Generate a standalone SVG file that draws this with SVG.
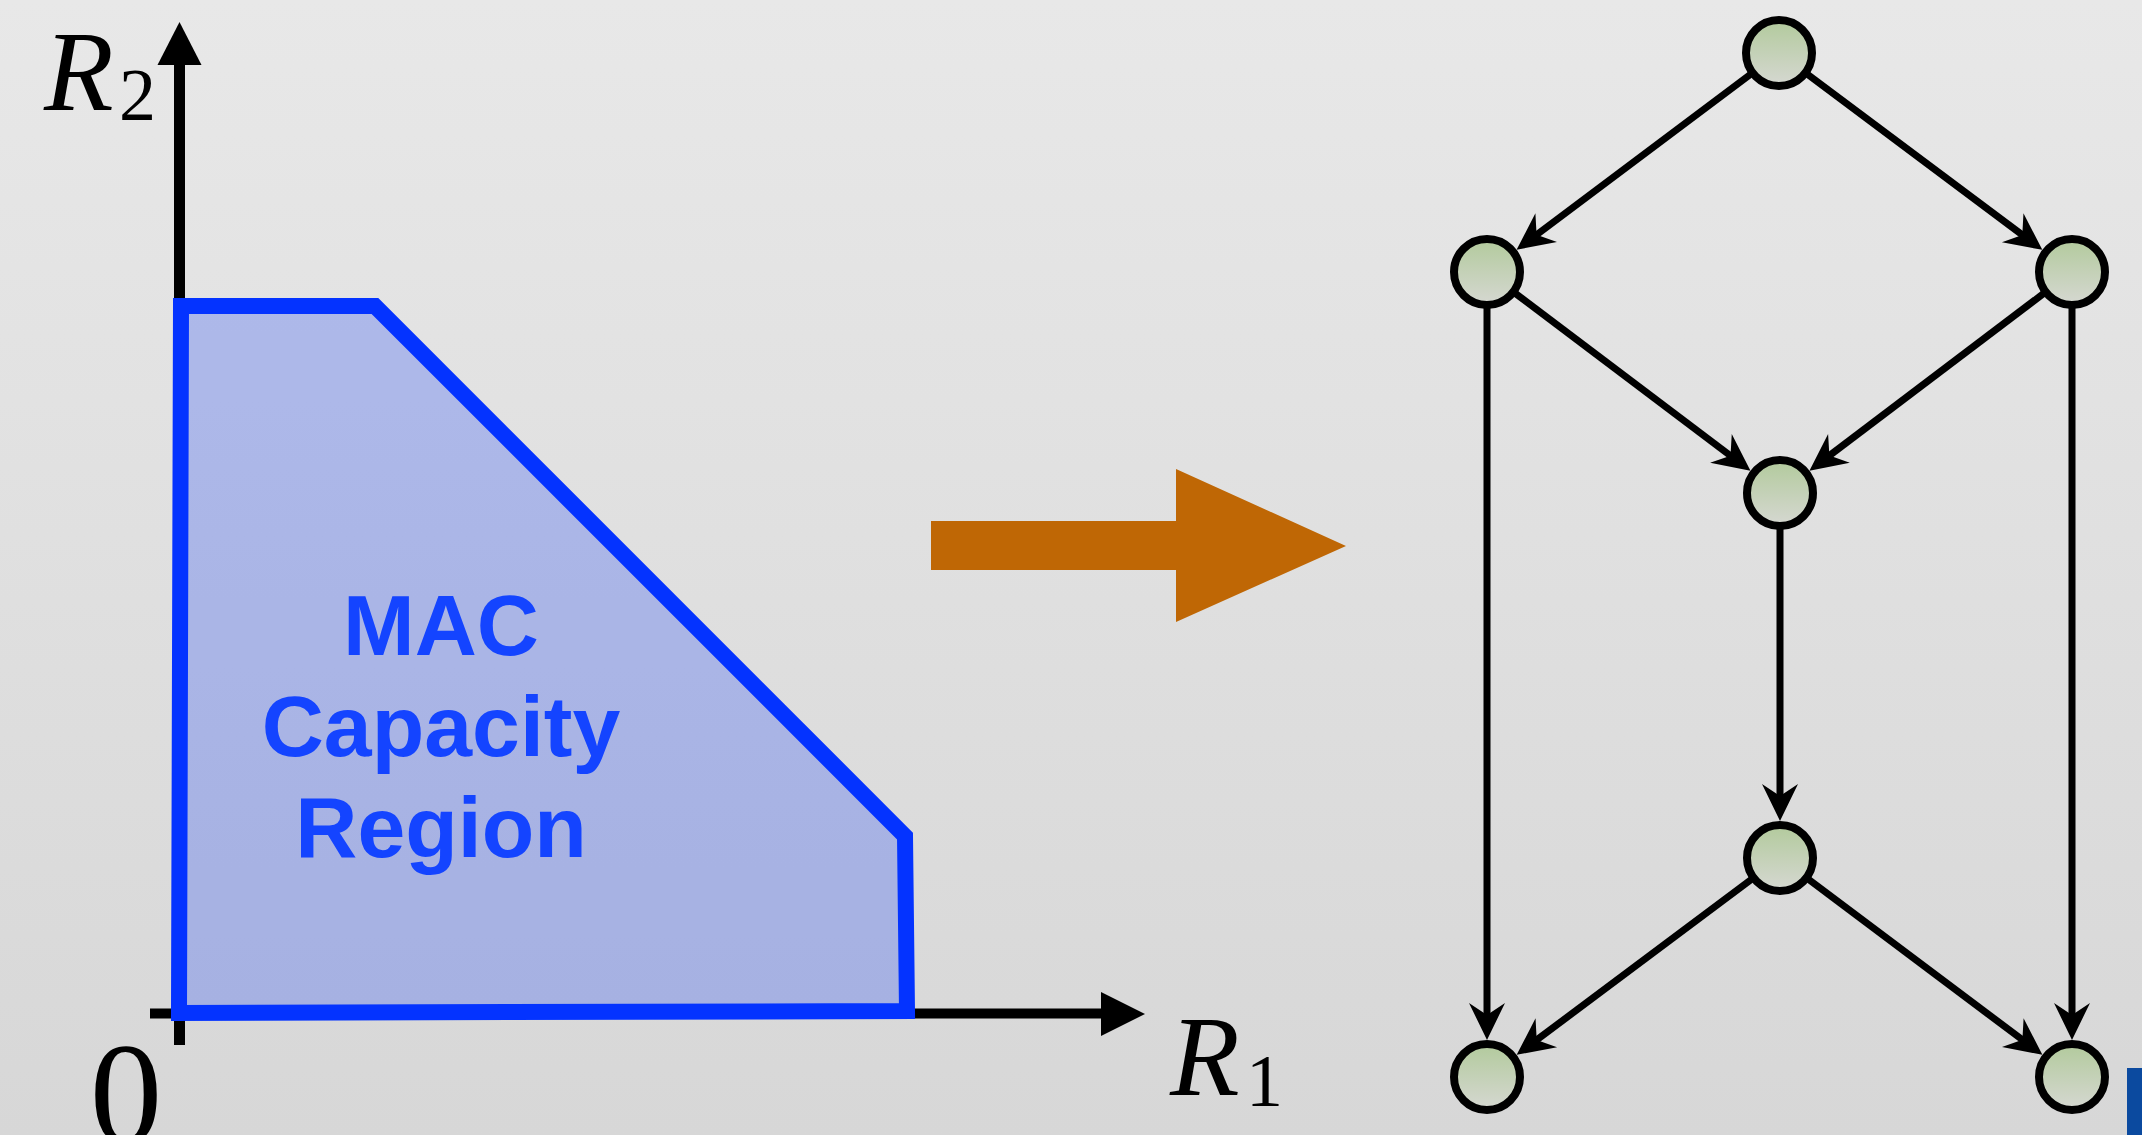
<svg xmlns="http://www.w3.org/2000/svg" width="2142" height="1135" viewBox="0 0 2142 1135">
  <defs>
    <linearGradient id="bg" x1="0" y1="0" x2="0" y2="1">
      <stop offset="0" stop-color="#e8e8e8"/>
      <stop offset="1" stop-color="#d7d7d7"/>
    </linearGradient>
    <linearGradient id="nodefill" x1="0" y1="0" x2="0" y2="1">
      <stop offset="0" stop-color="#b2ca9c"/>
      <stop offset="1" stop-color="#d6d8d2"/>
    </linearGradient>
    <marker id="arr" markerUnits="userSpaceOnUse" orient="auto" refX="0" refY="0" markerWidth="60" markerHeight="40" overflow="visible">
      <path d="M20,0 L-17,-18 L-5,0 L-17,18 Z" fill="#000"/>
    </marker>
    <style>
      .node circle { fill: url(#nodefill); stroke: #000; stroke-width: 8; }
      .edge { stroke: #000; stroke-width: 7; fill: none; marker-end: url(#arr); }
      .math { font-family: "Liberation Serif", "DejaVu Serif", serif; fill: #000; }
      .region-label { font-family: "Liberation Sans", Arial, sans-serif; font-weight: bold; font-size: 86px; fill: #1444ff; text-anchor: middle; }
    </style>
  </defs>

  <rect x="0" y="0" width="2142" height="1135" fill="url(#bg)"/>

  <!-- Left plot: axes -->
  <g id="axes">
    <line x1="179.5" y1="1045" x2="179.5" y2="60" stroke="#000" stroke-width="11"/>
    <polygon points="179.5,22 157.5,65 201.5,65" fill="#000"/>
    <line x1="150" y1="1013.5" x2="1106" y2="1013.5" stroke="#000" stroke-width="10"/>
    <polygon points="1145,1014 1101,992 1101,1036" fill="#000"/>
  </g>

  <!-- Capacity region -->
  <g id="region">
    <polygon points="181,306 375,306 905,836 907,1011 179,1013" fill="rgba(4,51,255,0.24)" stroke="#0433ff" stroke-width="16" stroke-linejoin="miter"/>
    <text class="region-label" x="441" y="655">MAC</text>
    <text class="region-label" x="441" y="756">Capacity</text>
    <text class="region-label" x="441" y="857">Region</text>
  </g>

  <!-- Axis labels -->
  <g id="labels">
    <text class="math" x="44" y="110" font-size="114" font-style="italic">R</text>
    <text class="math" x="119" y="120" font-size="74">2</text>
    <text class="math" x="1170" y="1095" font-size="114" font-style="italic">R</text>
    <text class="math" x="1246" y="1106" font-size="74">1</text>
    <text class="math" x="126" y="1143" font-size="145" text-anchor="middle">0</text>
  </g>

  <!-- Big orange arrow -->
  <g id="transform-arrow">
    <polygon points="931,521 1176,521 1176,469 1346,546 1176,622 1176,570 931,570" fill="#bf6705"/>
  </g>

  <!-- Graph connectors -->
  <g id="connectors">
    <line class="edge" x1="1752.6" y1="72.8" x2="1532.6" y2="237.8"/>
    <line class="edge" x1="1805.4" y1="72.8" x2="2026.3" y2="237.9"/>
    <line class="edge" x1="1513.3" y1="291.9" x2="1734.5" y2="458.7"/>
    <line class="edge" x1="2045.7" y1="291.9" x2="1825.4" y2="458.6"/>
    <line class="edge" x1="1780" y1="526" x2="1780" y2="801"/>
    <line class="edge" x1="1753.6" y1="877.8" x2="1532.7" y2="1042.9"/>
    <line class="edge" x1="1806.4" y1="877.8" x2="2026.4" y2="1042.8"/>
    <line class="edge" x1="1487" y1="305" x2="1487" y2="1020"/>
    <line class="edge" x1="2072" y1="305" x2="2072" y2="1020"/>
  </g>

  <!-- Graph nodes -->
  <g id="node-top" class="node"><circle cx="1779" cy="53" r="33"/></g>
  <g id="node-left" class="node"><circle cx="1487" cy="272" r="33"/></g>
  <g id="node-right" class="node"><circle cx="2072" cy="272" r="33"/></g>
  <g id="node-mid" class="node"><circle cx="1780" cy="493" r="33"/></g>
  <g id="node-lowmid" class="node"><circle cx="1780" cy="858" r="33"/></g>
  <g id="node-botleft" class="node"><circle cx="1487" cy="1077" r="33"/></g>
  <g id="node-botright" class="node"><circle cx="2072" cy="1077" r="33"/></g>

  <!-- Blue bar at bottom-right edge -->
  <rect x="2127" y="1068" width="15" height="67" fill="#0b4a9f"/>
</svg>
